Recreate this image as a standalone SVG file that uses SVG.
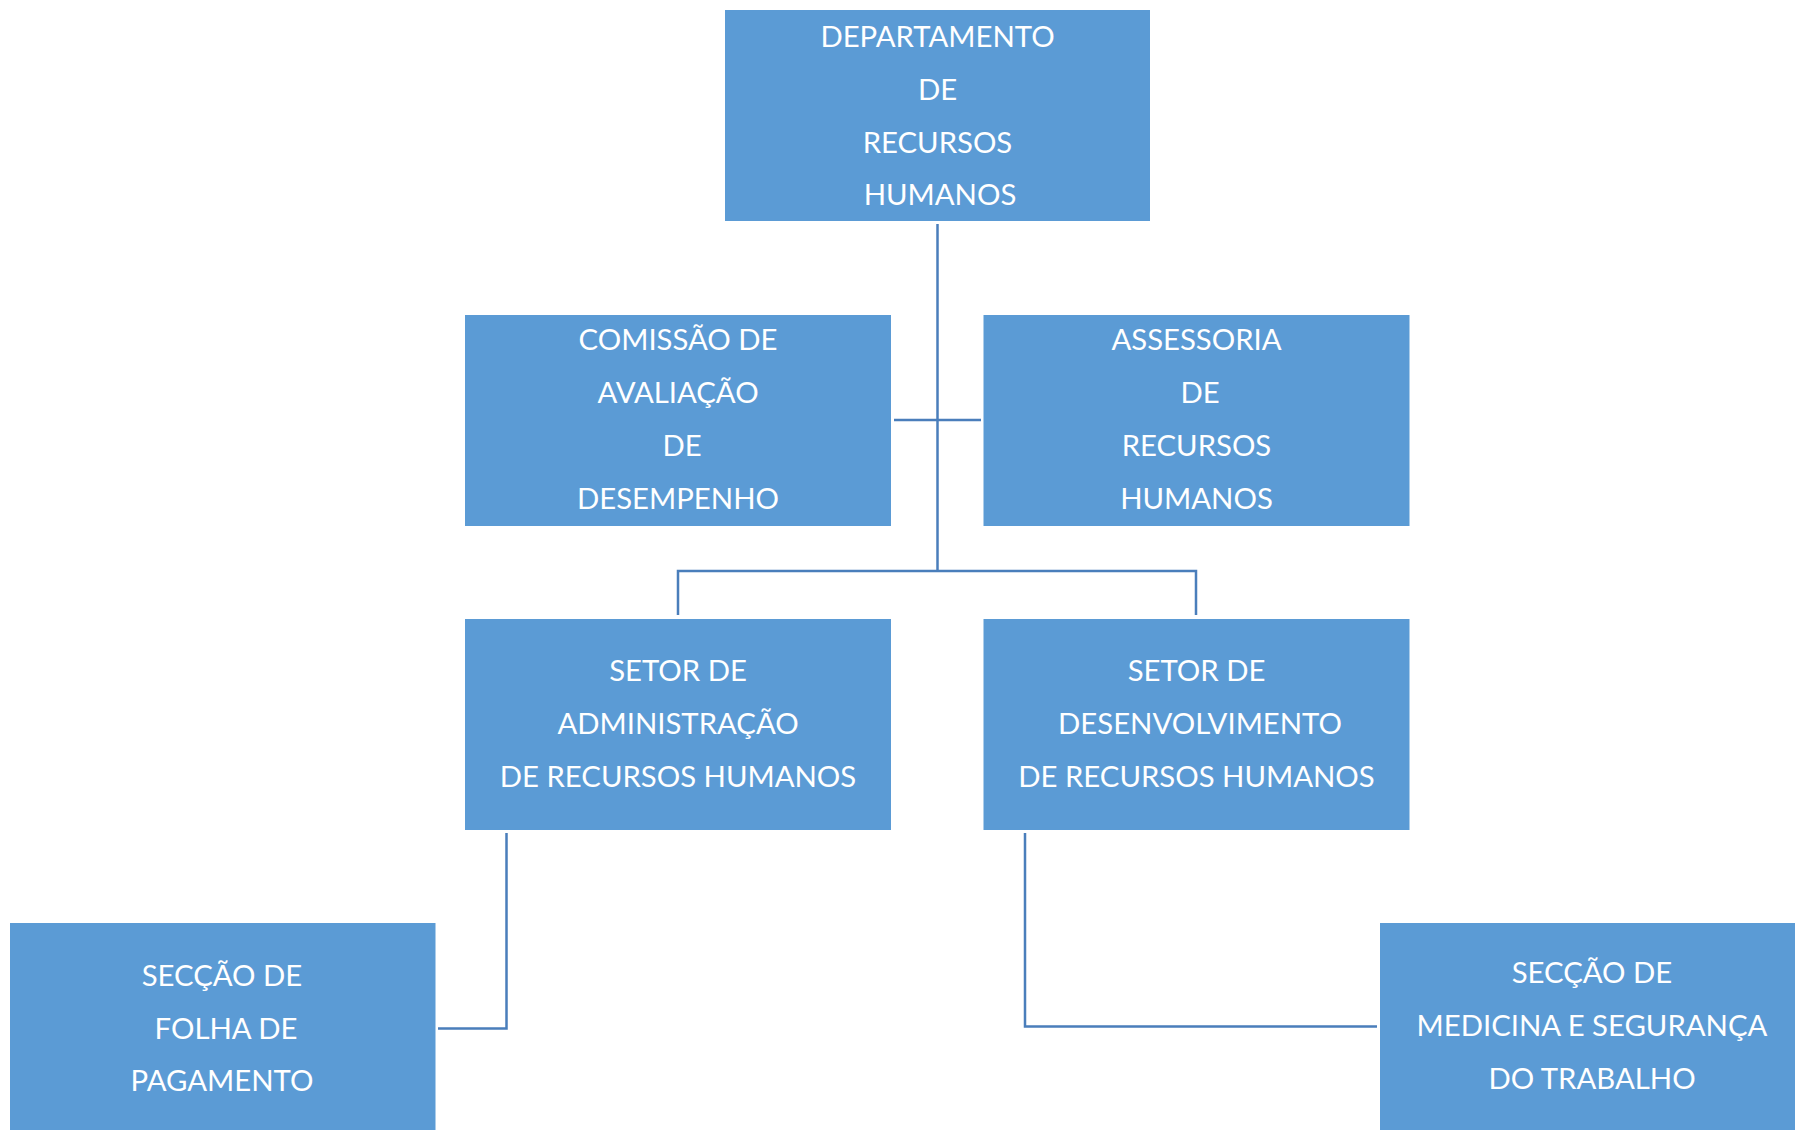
<svg xmlns="http://www.w3.org/2000/svg" width="1795" height="1130" viewBox="0 0 1795 1130">
<style>
.box{fill:#5B9BD5;}
.t{fill:#FFFFFF;font-family:Lato,"Open Sans",sans-serif;font-size:29.3px;text-anchor:middle;}
.c{fill:none;stroke:#4A7EBB;stroke-width:2.5;}
</style>
<rect width="1795" height="1130" fill="#FFFFFF"/>
<g id="connectors">
<line class="c" x1="937.5" y1="224" x2="937.5" y2="572"/>
<line class="c" x1="894" y1="420" x2="981" y2="420"/>
<polyline class="c" points="678,615 678,571 1196,571 1196,615"/>
<polyline class="c" points="506.5,833 506.5,1028.5 438,1028.5"/>
<polyline class="c" points="1025,833 1025,1026.5 1377,1026.5"/>
</g>
<g id="n_dept">
<rect class="box" x="725" y="10" width="425" height="211"/>
<text class="t" x="937.5" y="46.5">DEPARTAMENTO</text>
<text class="t" x="937.5" y="99.5">DE</text>
<text class="t" x="937.5" y="152.5">RECURSOS</text>
<text class="t" x="940" y="205">HUMANOS</text>
</g>
<g id="n_comissao">
<rect class="box" x="465" y="315" width="426" height="211"/>
<text class="t" x="678" y="349.5">COMISSÃO DE</text>
<text class="t" x="678" y="402.5">AVALIAÇÃO</text>
<text class="t" x="682" y="455.5">DE</text>
<text class="t" x="678" y="508.5">DESEMPENHO</text>
</g>
<g id="n_assessoria">
<rect class="box" x="983.5" y="315" width="426" height="211"/>
<text class="t" x="1196.5" y="349.5">ASSESSORIA</text>
<text class="t" x="1200" y="402.5">DE</text>
<text class="t" x="1196.5" y="455.5">RECURSOS</text>
<text class="t" x="1196.5" y="508.5">HUMANOS</text>
</g>
<g id="n_admin">
<rect class="box" x="465" y="619" width="426" height="211"/>
<text class="t" x="678" y="681">SETOR DE</text>
<text class="t" x="678" y="734">ADMINISTRAÇÃO</text>
<text class="t" x="678" y="786.5">DE RECURSOS HUMANOS</text>
</g>
<g id="n_desenv">
<rect class="box" x="983.5" y="619" width="426" height="211"/>
<text class="t" x="1196.5" y="681">SETOR DE</text>
<text class="t" x="1200" y="734">DESENVOLVIMENTO</text>
<text class="t" x="1196.5" y="786.5">DE RECURSOS HUMANOS</text>
</g>
<g id="n_folha">
<rect class="box" x="10" y="923" width="425.5" height="215"/>
<text class="t" x="222" y="986">SECÇÃO DE</text>
<text class="t" x="226" y="1038.5">FOLHA DE</text>
<text class="t" x="222" y="1091">PAGAMENTO</text>
</g>
<g id="n_medicina">
<rect class="box" x="1380" y="923" width="425" height="215"/>
<text class="t" x="1592" y="982.5">SECÇÃO DE</text>
<text class="t" x="1592" y="1036">MEDICINA E SEGURANÇA</text>
<text class="t" x="1592" y="1088.5">DO TRABALHO</text>
</g>
</svg>
